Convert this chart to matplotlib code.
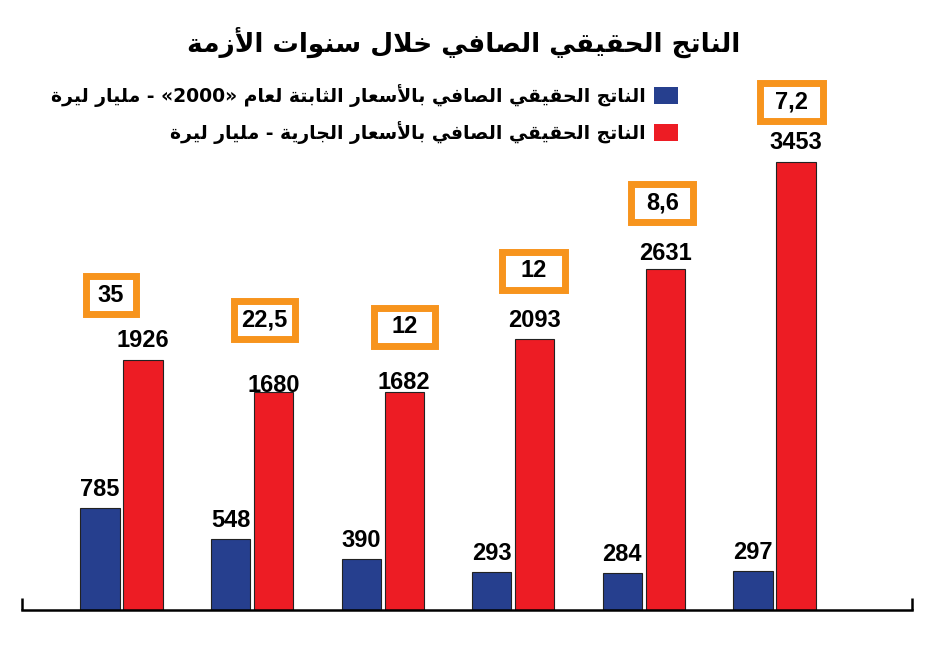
import re
import numpy as np
import matplotlib
matplotlib.use('Agg')
import matplotlib.pyplot as plt
from matplotlib.patches import Patch
from matplotlib.path import Path

# données
constant_2000 = [785, 548, 390, 293, 284, 297]
current_prices = [1926, 1680, 1682, 2093, 2631, 3453]
ratios = ['35', '22,5', '12', '12', '8,6', '7,2']

title = 'الناتج الحقيقي الصافي خلال سنوات الأزمة'
label_constant = 'الناتج الحقيقي الصافي بالأسعار الثابتة لعام «2000» - مليار ليرة'
label_current = 'الناتج الحقيقي الصافي بالأسعار الجارية - مليار ليرة'

BLUE = '#263F8E'
RED = '#ED1C24'
ORANGE = '#F7941D'
NUM_FONT = ['Liberation Sans', 'DejaVu Sans']

# formes de présentation arabes : (forme isolée, lettre bi-connectante ?)
FORMS = {
    'ا': (0xFE8D, False), 'أ': (0xFE83, False), 'ب': (0xFE8F, True),
    'ة': (0xFE93, False), 'ت': (0xFE95, True), 'ث': (0xFE99, True),
    'ج': (0xFE9D, True), 'ح': (0xFEA1, True), 'خ': (0xFEA5, True),
    'ر': (0xFEAD, False), 'ز': (0xFEAF, False), 'س': (0xFEB1, True),
    'ص': (0xFEB9, True), 'ع': (0xFEC9, True), 'ف': (0xFED1, True),
    'ق': (0xFED5, True), 'ل': (0xFEDD, True), 'م': (0xFEE1, True),
    'ن': (0xFEE5, True), 'و': (0xFEED, False), 'ي': (0xFEF1, True),
}
LAM_ALEF = {'ا': 0xFEFB, 'أ': 0xFEF7}
MIRROR = str.maketrans('«»()', '»«)(')


def arabic(text):
    # matplotlib ne fait pas la mise en forme arabe : on la fait ici
    toks = []
    i = 0
    while i < len(text):
        c = text[i]
        nxt = text[i + 1] if i + 1 < len(text) else ''
        if c == 'ل' and nxt in LAM_ALEF:
            toks.append((LAM_ALEF[nxt], False))
            i += 2
            continue
        toks.append(FORMS.get(c, c))
        i += 1
    out = []
    for k, t in enumerate(toks):
        if isinstance(t, str):
            out.append(t)
            continue
        code, dual = t
        prev = toks[k - 1] if k > 0 else None
        nxt = toks[k + 1] if k + 1 < len(toks) else None
        joins_prev = isinstance(prev, tuple) and prev[1]
        joins_next = dual and isinstance(nxt, tuple)
        if joins_prev and joins_next:
            code += 3
        elif joins_next:
            code += 2
        elif joins_prev:
            code += 1
        out.append(chr(code))
    s = ''.join(out)[::-1]
    s = re.sub(r'\d+', lambda m: m.group(0)[::-1], s)
    return s.translate(MIRROR)


def fixed_box(w, h):
    # boîte de taille fixe (pixels) centrée sur le texte
    def style(x0, y0, width, height, mutation_size):
        cx, cy = x0 + width / 2, y0 + height / 2
        xs = [cx - w / 2, cx + w / 2, cx + w / 2, cx - w / 2, cx - w / 2]
        ys = [cy - h / 2, cy - h / 2, cy + h / 2, cy + h / 2, cy - h / 2]
        return Path(np.column_stack([xs, ys]), closed=True)
    return style


fig = plt.figure(figsize=(9.42, 6.46), dpi=100)
ax = fig.add_axes([22 / 942, 36 / 646, 890 / 942, 610 / 646])

x = np.arange(len(constant_2000))
width = 0.30
off = 0.165
ax.bar(x - off, constant_2000, width, color=BLUE, edgecolor='#222222', linewidth=0.8)
ax.bar(x + off, current_prices, width, color=RED, edgecolor='#222222', linewidth=0.8)

ax.set_xlim(-0.762, 6.053)
ax.set_ylim(0, 610 / 0.1297)

# étiquettes des valeurs (décalages en pixels)
red_gap = [13, 0, 3, 12, 9, 13]
for xi, v in zip(x, constant_2000):
    ax.annotate(str(v), (xi - off, v), xytext=(0, 12 * 0.72), textcoords='offset points',
                ha='center', va='baseline', fontsize=17, fontweight='bold', family=NUM_FONT)
for xi, v, g in zip(x, current_prices, red_gap):
    ax.annotate(str(v), (xi + off, v), xytext=(0, g * 0.72), textcoords='offset points',
                ha='center', va='baseline', fontsize=17, fontweight='bold', family=NUM_FONT)

# cadres orange
box_dx = [-32, -9, 0, -1, -3, -5]
box_dy = [65, 72, 65, 68, 66, 60]
box_w = [50, 61, 61, 63, 62, 63]
for xi, v, r, dx, dy, bw in zip(x, current_prices, ratios, box_dx, box_dy, box_w):
    ax.annotate(r, (xi + off, v), xytext=(dx * 0.72, dy * 0.72), textcoords='offset points',
                ha='center', va='center', fontsize=17, fontweight='bold', family=NUM_FONT,
                bbox=dict(boxstyle=fixed_box(bw, 38), facecolor='white',
                          edgecolor=ORANGE, linewidth=5))

for s in ['top', 'left', 'right']:
    ax.spines[s].set_visible(False)
ax.spines['bottom'].set_linewidth(1.8)
ax.set_yticks([])
ax.set_xticks(ax.get_xlim())
ax.tick_params(axis='x', direction='in', length=9, width=1.8, labelbottom=False)

fig.text(464 / 942, 1 - 42 / 646, arabic(title), ha='center', va='center',
         fontsize=19, fontweight='bold', family='DejaVu Sans')

handles = [Patch(facecolor=BLUE), Patch(facecolor=RED)]
fig.legend(handles, [arabic(label_constant), arabic(label_current)],
           loc='upper right', bbox_to_anchor=(678 / 942, 1 - 84 / 646),
           markerfirst=False, frameon=False, borderpad=0, borderaxespad=0,
           handlelength=1.3, handleheight=1.0, handletextpad=0.4, labelspacing=0.75,
           prop=dict(family='DejaVu Sans', weight='bold', size=13.5))

fig.savefig('out.png', dpi=100)
